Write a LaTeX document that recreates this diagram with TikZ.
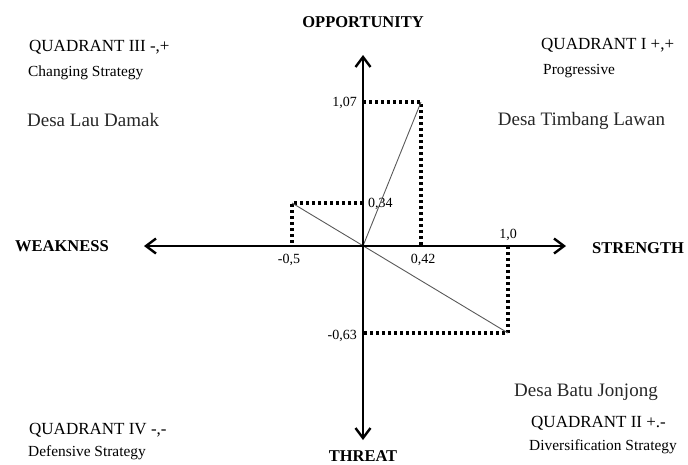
\documentclass[tikz,border=0pt]{standalone}
\usepackage{fontspec}
\setmainfont{Liberation Serif}
\usetikzlibrary{arrows.meta}
\tikzset{
  axisline/.style={line width=2.4pt, black, {Straight Barb[length=10pt,width=15pt,line width=2.4pt]}-{Straight Barb[length=10pt,width=15pt,line width=2.4pt]}},
  dotline/.style={line width=3.2pt, black, dash pattern=on 3pt off 3pt},
  vecline/.style={line width=0.9pt, black!65},
  quad/.style={anchor=base west, inner sep=0pt, font=\fontsize{17}{20}\selectfont},
  strat/.style={anchor=base west, inner sep=0pt, font=\fontsize{15.4}{18}\selectfont},
  desa/.style={anchor=base west, inner sep=0pt, text=black!85, font=\fontsize{19}{22}\selectfont},
  axlabel/.style={anchor=base, inner sep=0pt, font=\fontsize{16.5}{20}\selectfont\bfseries},
  num/.style={inner sep=0pt, font=\fontsize{14}{16}\selectfont}
}
\begin{document}
\begin{tikzpicture}[x=1pt,y=-1pt]
\useasboundingbox (0,0) rectangle (688,464);
% coordinates
\coordinate (O) at (363,246);
\coordinate (W) at (144,246);
\coordinate (E) at (566,246);
\coordinate (N) at (363,55);
\coordinate (S) at (363,440);
\coordinate (P1) at (421,102);
\coordinate (P1y) at (363,102);
\coordinate (P1x) at (421,246);
\coordinate (P2) at (292,203);
\coordinate (P2y) at (363,203);
\coordinate (P2x) at (292,246);
\coordinate (P3) at (508,333);
\coordinate (P3y) at (364,333);
\coordinate (P3x) at (508,246);
% dotted guides
\draw[dotline] (P1y) -- (P1) -- (P1x);
\draw[dotline] (P2y) -- (P2) -- (P2x);
\draw[dotline] (P3x) -- (P3) -- (P3y);
% vectors
\draw[vecline] (O) -- (P1);
\draw[vecline] (P2) -- (P3);
% axes
\draw[axisline] (W) -- (E);
\draw[axisline] (S) -- (N);
% axis labels
\node[axlabel] (opp) at (363,27) {OPPORTUNITY};
\node[axlabel] (thr) at (363,461) {THREAT};
\node[axlabel, anchor=base west] (weak) at (15,251) {WEAKNESS};
\node[axlabel, anchor=base west] (str) at (592,253) {STRENGTH};
% numbers
\node[num, anchor=east] (n107) at (357,103) {1,07};
\node[num, anchor=west] (n034) at (368,204) {0,34};
\node[num] (n05) at (289,260) {-0,5};
\node[num] (n042) at (423,260) {0,42};
\node[num] (n10) at (508,235) {1,0};
\node[num, anchor=east] (n063) at (357,336) {-0,63};
% quadrant texts
\node[quad] (q3) at (29,51.7) {QUADRANT III -,+};
\node[strat] (q3s) at (28,76) {Changing Strategy};
\node[desa] (d3) at (27,126.5) {Desa Lau Damak};
\node[quad] (q1) at (541,49.3) {QUADRANT I +,+};
\node[strat] (q1s) at (543,74) {Progressive};
\node[desa] (d1) at (497.7,125) {Desa Timbang Lawan};
\node[desa] (d2) at (514,396.7) {Desa Batu Jonjong};
\node[quad] (q2) at (531,427) {QUADRANT II +.-};
\node[strat] (q2s) at (529,450) {Diversification Strategy};
\node[quad] (q4) at (29,434) {QUADRANT IV -,-};
\node[strat] (q4s) at (28,456.7) {Defensive Strategy};
\end{tikzpicture}
\end{document}
